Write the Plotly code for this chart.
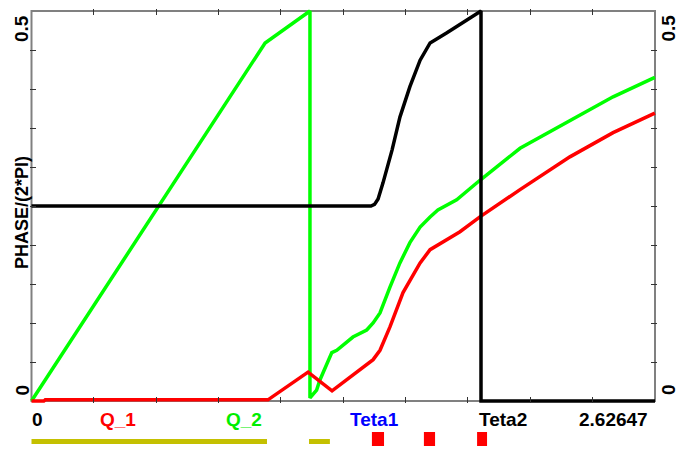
import plotly.graph_objects as go

# ---------------- data ----------------
X_MAX = 2.62647

green_x = [0.0, 0.984, 1.173, 1.173, 1.201, 1.215, 1.265, 1.286, 1.354, 1.412, 1.439, 1.468,
           1.510, 1.552, 1.594, 1.637, 1.679, 1.712, 1.791, 1.889, 2.058, 2.268, 2.450, 2.626]
green_y = [0.0, 0.459, 0.5, 0.004, 0.014, 0.027, 0.062, 0.065, 0.082, 0.091, 0.100, 0.113,
           0.146, 0.177, 0.203, 0.223, 0.236, 0.245, 0.258, 0.283, 0.324, 0.360, 0.390, 0.415]

red_x = [0.0, 0.052, 0.058, 0.996, 1.165, 1.266, 1.439, 1.468, 1.510, 1.565, 1.637, 1.679,
         1.805, 1.889, 2.058, 2.268, 2.450, 2.626]
red_y = [0.0, 0.0, 0.0015, 0.0015, 0.037, 0.013, 0.053, 0.065, 0.095, 0.139, 0.177, 0.194,
         0.217, 0.236, 0.271, 0.313, 0.344, 0.369]

black_x = [0.0, 1.430, 1.445, 1.460, 1.481, 1.519, 1.552, 1.594, 1.637, 1.679, 1.750, 1.8935, 1.8935, 2.62647]
black_y = [0.25, 0.25, 0.252, 0.259, 0.280, 0.322, 0.364, 0.403, 0.437, 0.459, 0.472, 0.5, 0.0, 0.0]

olive_start = [0.0, 1.169]
olive_end = [0.992, 1.257]
red_sq_start = [1.434, 1.653, 1.877]
red_sq_end = [1.485, 1.700, 1.919]

x_minor_ticks = [k * X_MAX / 10 for k in range(1, 10)]
y_minor_ticks = [k * 0.05 for k in range(1, 10)]

x_labels = ["0", "Q_1", "Q_2", "Teta1", "Teta2", "2.62647"]
x_label_pos = [0.0253, 0.3623, 0.8952, 1.4457, 1.988, 2.4518]
x_label_colors = ["#000000", "#ff0000", "#00ee00", "#0000ff", "#000000", "#000000"]
y_labels = ["0", "0.5"]

# ---------------- geometry ----------------
W, H = 678, 449
PX_L, PX_R, PX_T, PX_B = 31.5, 655.0, 11.0, 401.0   # frame pixels
PAD = 2.0
ppx = (PX_R - PX_L) / X_MAX
ppy = (PX_B - PX_T) / 0.5
xpad = PAD / ppx
ypad = PAD / ppy

FONT = "Liberation Sans, Arial, Helvetica, sans-serif"

fig = go.Figure()

fig.add_trace(go.Scatter(x=green_x, y=green_y, mode="lines",
                         line=dict(color="#00ff00", width=3.5), showlegend=False))
fig.add_trace(go.Scatter(x=red_x, y=red_y, mode="lines",
                         line=dict(color="#ff0000", width=3.5), showlegend=False))
fig.add_trace(go.Scatter(x=black_x, y=black_y, mode="lines",
                         line=dict(color="#000000", width=3.5), showlegend=False))

# bottom strip bars
fig.add_trace(go.Bar(orientation="h", y=[0.395] * len(olive_start),
                     x=[e - s for s, e in zip(olive_start, olive_end)], base=olive_start,
                     width=0.263, marker=dict(color="#c4c000", line=dict(width=0)),
                     xaxis="x", yaxis="y2", showlegend=False))
fig.add_trace(go.Bar(orientation="h", y=[0.526] * len(red_sq_start),
                     x=[e - s for s, e in zip(red_sq_start, red_sq_end)], base=red_sq_start,
                     width=0.737, marker=dict(color="#ff0000", line=dict(width=0)),
                     xaxis="x", yaxis="y2", showlegend=False))

annotations = []
for t, xp, c in zip(x_labels, x_label_pos, x_label_colors):
    annotations.append(dict(x=xp, xref="x", y=(H - 419) / H, yref="paper",
                            text="<b>%s</b>" % t, showarrow=False, xanchor="center",
                            yanchor="middle", font=dict(family=FONT, size=19, color=c)))
ylab_py = {"0": 390.0, "0.5": 28.5}
for t in y_labels:
    for xpx in (21.5, 668.0):
        annotations.append(dict(x=xpx / W, xref="paper", y=(H - ylab_py[t]) / H, yref="paper",
                                text="<b>%s</b>" % t, showarrow=False, textangle=-90,
                                xanchor="center", yanchor="middle",
                                font=dict(family=FONT, size=19, color="#000000")))
annotations.append(dict(x=21.5 / W, xref="paper", y=(H - 212.5) / H, yref="paper",
                        text="<b>PHASE/(2*PI)</b>", showarrow=False, textangle=-90,
                        xanchor="center", yanchor="middle",
                        font=dict(family=FONT, size=18, color="#000000")))

fig.update_layout(
    width=W, height=H,
    margin=dict(l=0, r=0, t=0, b=0, pad=0),
    paper_bgcolor="white", plot_bgcolor="white",
    barmode="overlay",
    xaxis=dict(domain=[(PX_L - PAD) / W, (PX_R + PAD) / W],
               range=[-xpad, X_MAX + xpad], anchor="y",
               showgrid=False, zeroline=False, showline=False,
               tickvals=x_minor_ticks, ticks="inside", ticklen=6, tickwidth=1,
               tickcolor="#333333", mirror="ticks", showticklabels=False),
    yaxis=dict(domain=[(H - PX_B - PAD) / H, (H - PX_T + PAD) / H],
               range=[-ypad, 0.5 + ypad], anchor="x",
               showgrid=False, zeroline=False, showline=False,
               tickvals=y_minor_ticks, ticks="inside", ticklen=6, tickwidth=1,
               tickcolor="#333333", mirror="ticks", showticklabels=False),
    yaxis2=dict(domain=[0, 19 / H], range=[0, 1], anchor="x",
                showgrid=False, zeroline=False, showline=False,
                showticklabels=False, ticks=""),
    shapes=[dict(type="rect", xref="x", yref="y", x0=0, x1=X_MAX, y0=0, y1=0.5,
                 line=dict(color="#808080", width=2), layer="below")],
    annotations=annotations,
)

fig.write_html("out.html", config={"displayModeBar": False},
               post_script="document.body.style.margin='0';document.body.style.overflow='hidden';")
